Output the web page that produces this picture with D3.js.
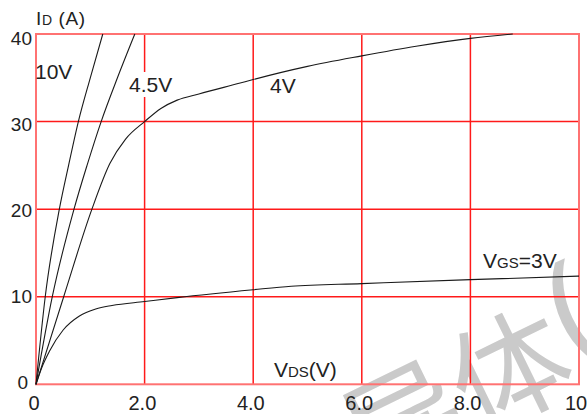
<!DOCTYPE html>
<html>
<head>
<meta charset="utf-8">
<script src="https://cdn.jsdelivr.net/npm/d3@7"></script>
<style>
  body { margin: 0; background: #fff; }
  svg { display: block; font-family: Arial, "Liberation Sans", sans-serif; }
</style>
</head>
<body>
<svg id="chart" width="587" height="414"></svg>
<script>
// output characteristics
const vds10 = [0, 0.17, 0.43, 0.6, 0.78, 1.0, 1.23];
const id10 = [0, 10, 20, 25, 30, 35, 40];

const vds45 = [0, 0.3, 0.7, 0.94, 1.2, 1.5, 1.82];
const id45 = [0, 10, 20, 25, 30, 35, 40];

const vds4 = [0, 0.51, 1.03, 1.36, 1.65, 2.0, 2.3, 2.6, 3.0, 3.76, 4.0, 5.0, 6.0, 7.0, 8.0, 8.78];
const id4 = [0, 10, 20, 25.2, 28, 30, 31.5, 32.45, 33.15, 34.4, 34.8, 36.3, 37.5, 38.6, 39.5, 40];

const vds3 = [0, 0.1, 0.25, 0.5, 0.8, 1.1, 1.4, 2.0, 2.6, 4.0, 4.7, 6.0, 8.0, 10];
const id3 = [0, 1.8, 3.8, 6.2, 7.8, 8.6, 9.0, 9.45, 9.9, 10.8, 11.2, 11.5, 11.95, 12.35];

const xTicks = [0, 2, 4, 6, 8, 10];
const xTickLabels = ["0", "2.0", "4.0", "6.0", "8.0", "10"];
const yTicks = [0, 10, 20, 30, 40];
const yTickLabels = ["0", "10", "20", "30", "40"];

const svg = d3.select("#chart");

const x = d3.scaleLinear().domain([0, 10]).range([36, 579]);
const y = d3.scaleLinear().domain([0, 40]).range([384.3, 34]);
// tick labels in the source sit slightly off the grid
const xLab = d3.scaleLinear().domain([0, 10]).range([34, 576]);
const yLab = d3.scaleLinear().domain([0, 40]).range([382.7, 38.3]);

// watermark
svg.append("text")
  .attr("transform", "translate(370,487) rotate(-26)")
  .attr("fill", "#cacaca")
  .style("font-family", "'Noto Sans CJK SC'")
  .style("font-size", "118px")
  .text("导体");

svg.append("text")
  .attr("transform", "translate(590,349) rotate(-25)")
  .attr("text-anchor", "middle")
  .attr("fill", "#cacaca")
  .style("font-family", "'Noto Sans'")
  .style("font-size", "130px")
  .text("(");

// grid
svg.append("g")
  .selectAll("line")
  .data(xTicks.slice(1, -1))
  .join("line")
  .attr("x1", d => x(d)).attr("x2", d => x(d))
  .attr("y1", y(0)).attr("y2", y(40))
  .attr("stroke", "#ff1a1a")
  .attr("stroke-width", 1.5);

svg.append("g")
  .selectAll("line")
  .data(yTicks.slice(1, -1))
  .join("line")
  .attr("x1", x(0)).attr("x2", x(10))
  .attr("y1", d => y(d)).attr("y2", d => y(d))
  .attr("stroke", "#ff1a1a")
  .attr("stroke-width", 1.5);

// white gap behind the 4.5V label
svg.append("rect")
  .attr("x", x(2) - 3).attr("y", 72)
  .attr("width", 6).attr("height", 25)
  .attr("fill", "#fff");

// frame
svg.append("rect")
  .attr("x", x(0)).attr("y", y(40))
  .attr("width", x(10) - x(0))
  .attr("height", y(0) - y(40))
  .attr("fill", "none")
  .attr("stroke", "#ff7272")
  .attr("stroke-width", 2);

// curves
const line = d3.line()
  .x(d => x(d[0]))
  .y(d => y(d[1]))
  .curve(d3.curveMonotoneX);

const curves = [
  d3.zip(vds10, id10),
  d3.zip(vds45, id45),
  d3.zip(vds4, id4),
  d3.zip(vds3, id3)
];

svg.append("g")
  .selectAll("path")
  .data(curves)
  .join("path")
  .attr("d", line)
  .attr("fill", "none")
  .attr("stroke", "#1a1a1a")
  .attr("stroke-width", 1.1);

// tick labels
svg.append("g")
  .selectAll("text")
  .data(xTicks)
  .join("text")
  .attr("x", d => xLab(d))
  .attr("y", 409.5)
  .attr("text-anchor", "middle")
  .attr("fill", "#222")
  .style("font-size", "20px")
  .text((d, i) => xTickLabels[i]);

svg.append("g")
  .selectAll("text")
  .data(yTicks)
  .join("text")
  .attr("x", d => d === 0 ? 28 : 32)
  .attr("y", d => yLab(d))
  .attr("dy", "0.35em")
  .attr("text-anchor", "end")
  .attr("fill", "#222")
  .style("font-size", "19px")
  .text((d, i) => yTickLabels[i]);

// axis titles
const idTitle = svg.append("text")
  .attr("x", 36).attr("y", 25)
  .attr("fill", "#222")
  .style("font-size", "19px")
  .style("letter-spacing", "0.6px");
idTitle.append("tspan").text("I");
idTitle.append("tspan").style("font-size", "14px").text("D");
idTitle.append("tspan").text(" (A)");

const vdsTitle = svg.append("text")
  .attr("x", 274).attr("y", 377)
  .attr("fill", "#222")
  .style("font-size", "21px");
vdsTitle.append("tspan").text("V");
vdsTitle.append("tspan").style("font-size", "15px").text("DS");
vdsTitle.append("tspan").text("(V)");

// curve labels
const labels = [
  { t: "10V", x: 35, y: 79 },
  { t: "4.5V", x: 129, y: 91.5 },
  { t: "4V", x: 270, y: 93 }
];
svg.append("g")
  .selectAll("text")
  .data(labels)
  .join("text")
  .attr("x", d => d.x)
  .attr("y", d => d.y)
  .attr("fill", "#222")
  .style("font-size", "21px")
  .text(d => d.t);

const vgsTitle = svg.append("text")
  .attr("x", 483).attr("y", 268)
  .attr("fill", "#222")
  .style("font-size", "21px");
vgsTitle.append("tspan").text("V");
vgsTitle.append("tspan").style("font-size", "15px").text("GS");
vgsTitle.append("tspan").text("=3V");
</script>
</body>
</html>
